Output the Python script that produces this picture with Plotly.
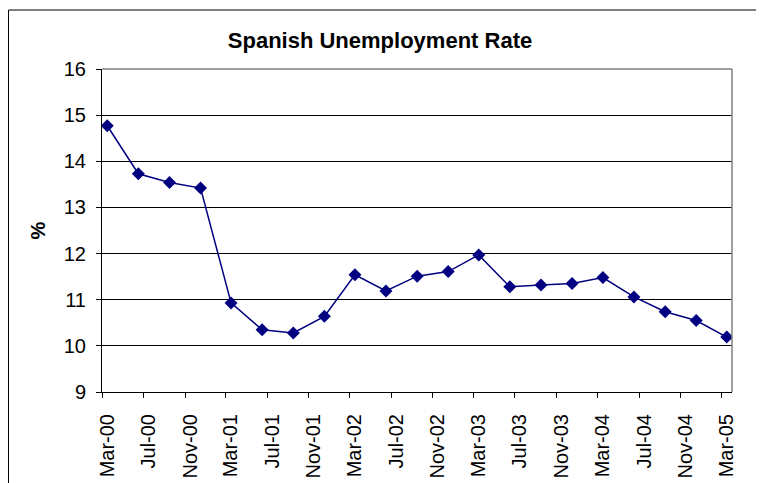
import plotly.graph_objects as go

months = ["2000-03", "2000-06", "2000-09", "2000-12",
          "2001-03", "2001-06", "2001-09", "2001-12",
          "2002-03", "2002-06", "2002-09", "2002-12",
          "2003-03", "2003-06", "2003-09", "2003-12",
          "2004-03", "2004-06", "2004-09", "2004-12",
          "2005-03"]
rate = [14.77, 13.73, 13.54, 13.42,
        10.93, 10.35, 10.28, 10.64,
        11.54, 11.19, 11.51, 11.61,
        11.97, 11.28, 11.32, 11.35,
        11.48, 11.06, 10.74, 10.55,
        10.19]
tick_vals = ["2000-03-01", "2000-07-01", "2000-11-01", "2001-03-01", "2001-07-01",
             "2001-11-01", "2002-03-01", "2002-07-01", "2002-11-01", "2003-03-01",
             "2003-07-01", "2003-11-01", "2004-03-01", "2004-07-01", "2004-11-01",
             "2005-03-01"]
tick_text = ["Mar-00", "Jul-00", "Nov-00", "Mar-01", "Jul-01", "Nov-01",
             "Mar-02", "Jul-02", "Nov-02", "Mar-03", "Jul-03", "Nov-03",
             "Mar-04", "Jul-04", "Nov-04", "Mar-05"]

W, H = 756, 475
L, R, T, B = 94, 32, 61, 91
PW, PH = W - L - R, H - T - B

fig = go.Figure()
fig.add_trace(go.Scatter(
    x=months, y=rate, mode="lines+markers",
    xperiod="M1", xperiodalignment="middle",
    line=dict(color="#000080", width=1.5),
    marker=dict(symbol="diamond", size=10, color="#000080"),
    showlegend=False,
))

fig.update_layout(
    width=W, height=H,
    margin=dict(l=L, r=R, t=T, b=B, autoexpand=False),
    paper_bgcolor="white", plot_bgcolor="white",
    font=dict(family="Liberation Sans, Arial, sans-serif", size=16, color="black"),
    title=dict(text="<b>Spanish Unemployment Rate</b>", x=372 / W, xanchor="center",
               y=1 - 32 / H, yanchor="middle",
               font=dict(size=22, color="black")),
    xaxis=dict(
        type="date", range=["2000-03-01", "2005-04-01"],
        tickvals=tick_vals, ticktext=tick_text, tickangle=-90,
        ticks="outside", ticklen=5, tickcolor="black",
        tickfont=dict(size=20), automargin=False,
        showgrid=False, showline=True, linecolor="black", linewidth=1,
        ticklabelshift=5, ticklabelstandoff=8, zeroline=False,
    ),
    yaxis=dict(
        range=[9, 16], dtick=1, tick0=9,
        ticks="outside", ticklen=5, tickcolor="black",
        tickfont=dict(size=20), ticklabelstandoff=6, automargin=False,
        showgrid=True, gridcolor="black", gridwidth=1,
        showline=True, linecolor="black", linewidth=1, zeroline=False,
        title=dict(text="<b>%</b>", font=dict(size=20), standoff=12),
    ),
    shapes=[
        dict(type="line", xref="paper", yref="paper", x0=0, x1=1, y0=1, y1=1,
             line=dict(color="#808080", width=1.5)),
        dict(type="line", xref="paper", yref="paper", x0=1, x1=1, y0=0, y1=1,
             line=dict(color="#808080", width=1.5)),
        dict(type="rect", xref="paper", yref="paper",
             x0=(0.5 - L) / PW, x1=(749 - L) / PW,
             y0=-(B + 20) / PH, y1=(PH + T - 2) / PH,
             line=dict(color="black", width=1), fillcolor="rgba(0,0,0,0)"),
    ],
)

fig.write_html("out.html")
